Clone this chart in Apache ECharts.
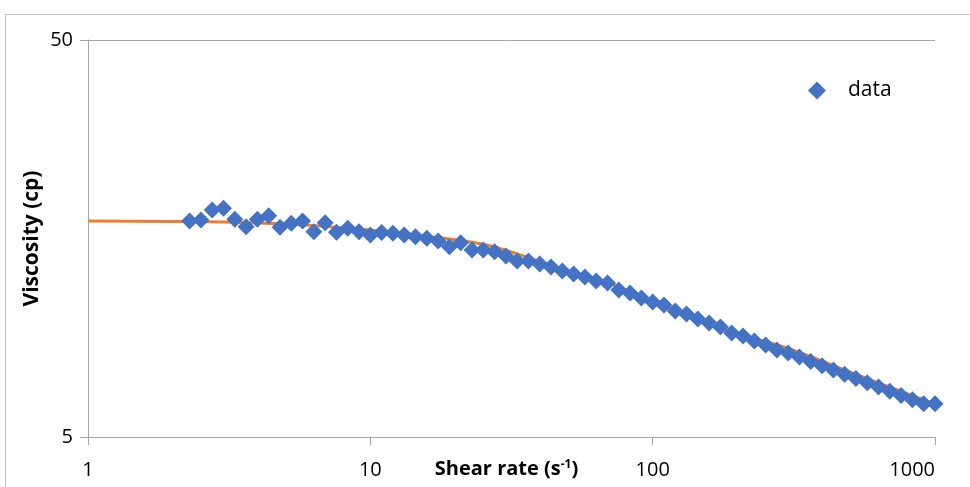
<!DOCTYPE html>
<html>
<head>
<meta charset="utf-8">
<script src="https://cdn.jsdelivr.net/npm/echarts@6/dist/echarts.min.js"></script>
<style>
  html, body { margin: 0; padding: 0; background: #fff; }
  #chart { width: 970px; height: 487px; }
</style>
</head>
<body>
<div id="chart"></div>
<script>
// measured shear rate (1/s) and viscosity (cp)
var shearRate = [
  2.291, 2.512, 2.754, 3.020, 3.311, 3.631, 3.981, 4.365, 4.786, 5.248,
  5.754, 6.310, 6.918, 7.586, 8.318, 9.120, 10.00, 10.96, 12.02, 13.18,
  14.45, 15.85, 17.38, 19.05, 20.89, 22.91, 25.12, 27.54, 30.20, 33.11,
  36.31, 39.81, 43.65, 47.86, 52.48, 57.54, 63.10, 69.18, 75.86, 83.18,
  91.20, 100.0, 109.6, 120.2, 131.8, 144.5, 158.5, 173.8, 190.5, 208.9,
  229.1, 251.2, 275.4, 302.0, 331.1, 363.1, 398.1, 436.5, 478.6, 524.8,
  575.4, 631.0, 691.8, 758.6, 831.8, 912.0, 1000
];
var viscosity = [
  17.50, 17.60, 18.65, 18.84, 17.68, 16.93, 17.68, 18.05, 16.87, 17.27,
  17.50, 16.45, 17.33, 16.40, 16.78, 16.45, 16.14, 16.36, 16.30, 16.14,
  15.98, 15.83, 15.59, 15.08, 15.43, 14.79, 14.79, 14.65, 14.28, 13.88,
  13.88, 13.64, 13.40, 13.09, 12.87, 12.64, 12.36, 12.21, 11.73, 11.53,
  11.20, 10.94, 10.75, 10.39, 10.21, 9.91, 9.69, 9.46, 9.14, 8.98,
  8.72, 8.52, 8.28, 8.14, 7.95, 7.75, 7.56, 7.37, 7.19, 7.02,
  6.85, 6.68, 6.52, 6.36, 6.21, 6.06, 6.06
];
// model fit curve
var fitRate = [1, 2, 3, 5, 7, 10, 15, 20, 25, 30, 50, 70, 100, 150, 200, 300, 500, 700, 1000];
var fitVisc = [17.5, 17.45, 17.4, 17.2, 16.95, 16.6, 16.1, 15.7, 15.3, 14.8, 13.1, 12.2, 10.95, 9.85, 9.1, 8.37, 7.29, 6.66, 6.06];
var xTicks = [1, 10, 100, 1000];
var yTicks = [5, 50];

var FONT = 'Open Sans';
var dataPts = shearRate.map(function (x, i) { return [x, viscosity[i]]; });
var fitPts = fitRate.map(function (x, i) { return [x, fitVisc[i]]; });

var chart = echarts.init(document.getElementById('chart'));
chart.setOption({
  animation: false,
  textStyle: { fontFamily: FONT },
  graphic: [{
    type: 'rect',
    shape: { x: 5.5, y: 14.5, width: 980, height: 490 },
    style: { fill: 'none', stroke: '#bfbfbf', lineWidth: 1 },
    silent: true
  }],
  grid: { left: 88, right: 35, top: 40, bottom: 50, outerBoundsMode: 'none', containLabel: false },
  legend: {
    data: [{ name: 'data', icon: 'diamond' }],
    left: 803, top: 75,
    itemWidth: 18, itemHeight: 18, itemGap: 10,
    textStyle: { fontFamily: FONT, fontSize: 21, color: '#000', padding: [0, 0, 0, 17] }
  },
  xAxis: {
    type: 'log', logBase: 10, min: 1, max: 1000,
    name: '{b|Shear rate (s}{sup|-1}{b|)}',
    nameLocation: 'middle', nameGap: 22, nameMoveOverlap: false,
    nameTextStyle: {
      padding: [0, 10, 0, 0],
      rich: {
        b: { fontFamily: FONT, fontSize: 20, fontWeight: 'bold', color: '#000' },
        sup: { fontFamily: FONT, fontSize: 12, fontWeight: 'bold', color: '#000', verticalAlign: 'top', padding: [0, 0, 9, 0] }
      }
    },
    axisLine: { lineStyle: { color: '#a6a6a6', width: 1 } },
    axisTick: { show: true, length: 8, inside: false, customValues: xTicks, lineStyle: { color: '#a6a6a6' } },
    axisLabel: { customValues: xTicks, margin: 23, fontSize: 20, color: '#000', fontFamily: FONT,
                 alignMaxLabel: 'right',
                 formatter: function (v) { return String(Math.round(v)); } },
    splitLine: { show: false }
  },
  yAxis: {
    type: 'log', logBase: 10, min: 5, max: 50,
    name: 'Viscosity (cp)',
    nameLocation: 'middle', nameGap: 45, nameRotate: 90, nameMoveOverlap: false,
    nameTextStyle: { fontFamily: FONT, fontSize: 21, fontWeight: 'bold', color: '#000' },
    axisLine: { show: true, lineStyle: { color: '#a6a6a6', width: 1 } },
    axisTick: { show: true, length: 8, customValues: yTicks, lineStyle: { color: '#a6a6a6' } },
    axisLabel: { customValues: yTicks, margin: 15, fontSize: 20, color: '#000', fontFamily: FONT,
                 formatter: function (v) { return String(Math.round(v)); } },
    splitLine: { show: true, lineStyle: { color: '#a6a6a6', width: 1 } }
  },
  series: [
    {
      name: 'fit', type: 'line', data: fitPts, smooth: true, showSymbol: false,
      lineStyle: { color: '#ED7D31', width: 3 }, z: 1
    },
    {
      name: 'data', type: 'scatter', data: dataPts, symbol: 'diamond', symbolSize: 17,
      itemStyle: { color: '#4472C4', opacity: 1 }, z: 2
    }
  ]
});
</script>
</body>
</html>
